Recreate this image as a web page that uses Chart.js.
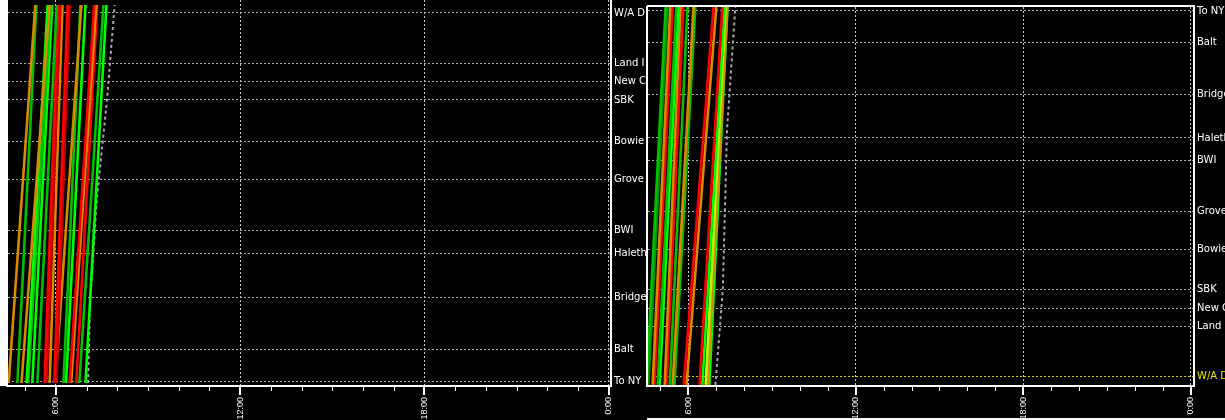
<!DOCTYPE html>
<html><head><meta charset="utf-8">
<script src="https://cdn.jsdelivr.net/npm/chart.js@4.4.1/dist/chart.umd.min.js"></script>
<style>
html,body{margin:0;padding:0;background:#000;width:1225px;height:420px;overflow:hidden;position:relative}
#c1{position:absolute;left:0;top:0}
#c2{position:absolute;left:645px;top:0}
#strip{position:absolute;left:0;top:0;width:7px;height:386px;background:#fff}
#bot{position:absolute;left:647px;top:418px;width:578px;height:2px;background:#fff}
</style></head><body>
<canvas id="c1" width="647" height="420"></canvas>
<div id="strip"></div>
<canvas id="c2" width="580" height="420"></canvas>
<div id="bot"></div>
<script>
// ---- stations (distance from W/A D) ----
const stationNames = ['W/A D','Land I','New C','SBK','Bowie','Grove','BWI','Haleth','Bridge','Balt','To NY'];
const stationMiles = [0,50,68,87,128,166,217,240,284,336,368];

// ---- time axis ----
const timeTickHours  = [6,12,18,24];
const timeTickLabels = ['6:00','12:00','18:00','0:00'];

// ---- left panel: trains run from the To NY end (mile 370) to beyond W/A D (mile -8) ----
const leftFromMile = 370, leftToMile = -8;
const leftStart = ['4:28','4:45','4:53','5:03','5:06','5:14','5:24','5:38','5:42','5:48','5:57','6:01','5:59','6:15','6:20','6:27','6:30','6:40','6:46','6:58'];
const leftEnd   = ['5:20','5:22','5:48','5:44','5:50','5:53','6:02','6:05','6:09','6:13','6:23','6:27','6:50','6:48','6:58','7:15','7:19','7:21','7:33','7:39'];
const leftType  = ['O','G','O','L','G','L','G','R','D','O','R','D','O','G','L','R','O','R','G','L'];
const leftNowMiles = [370,287,267,187,127,87,-8];
const leftNowTimes = ['7:03','7:07','7:10','7:20','7:32','7:40','7:55'];

// ---- right panel: trains run from below W/A D (mile -9) to beyond To NY (mile 372) ----
const rightFromMile = -9, rightToMile = 372;
const rightStart = ['4:30','4:34','4:43','4:47','4:54','4:58','5:09','5:13','5:20','5:26','5:30','5:50','5:56','6:24','6:30','6:37','6:41','6:45'];
const rightEnd   = ['5:11','5:15','5:21','5:26','5:34','5:39','5:43','5:49','5:58','6:11','6:15','6:54','7:00','7:13','7:18','7:20','7:24','7:24'];
const rightType  = ['G','K','O','R','G','L','O','R','G','O','G','R','O','R','L','Y','O','L'];
const rightNowMiles = [-9,87,248,372];
const rightNowTimes = ['6:58','7:14','7:23','7:41'];

const palette = {G:'#00c000', L:'#00ff00', R:'#ff0000', D:'#c80000', O:'#d88a00', Y:'#b4ff00', K:'#009000'};

function hm(s){const p=s.split(':').map(Number);return p[0]+p[1]/60;}

function trainSets(starts, ends, types, fromMile, toMile){
  return starts.map((s,i)=>({
    data:[{x:hm(s),y:fromMile},{x:hm(ends[i]),y:toMile}],
    borderColor:palette[types[i]], backgroundColor:palette[types[i]],
    borderWidth:2.6, pointRadius:0, showLine:true, fill:false
  }));
}
function nowSet(miles, times){
  return {data:miles.map((m,i)=>({x:hm(times[i]),y:m})),
    borderColor:'#a8a8a8', borderWidth:2, borderDash:[3,3], pointRadius:0, showLine:true, fill:false};
}

const framePlugin = {
  id:'frame',
  afterDraw(chart){
    const {ctx, chartArea:a} = chart; const x = chart.scales.x;
    const hideTop = chart.options.plugins.frame && chart.options.plugins.frame.hideTop;
    ctx.save();
    ctx.strokeStyle='#ffffff'; ctx.lineWidth=2;
    ctx.beginPath();
    ctx.moveTo(a.left-1, a.top-1); ctx.lineTo(a.left-1, a.bottom+1);
    ctx.lineTo(a.right+1, a.bottom+1); ctx.lineTo(a.right+1, a.top-1);
    if(!hideTop) ctx.lineTo(a.left-1, a.top-1);
    ctx.stroke();
    for(let h=Math.ceil(x.min); h<=Math.floor(x.max); h++){
      const major = h%6===0;
      const px = Math.round(x.getPixelForValue(h));
      ctx.lineWidth = major?2:1;
      const off = major?0:0.5;
      ctx.beginPath(); ctx.moveTo(px+off, a.bottom+1); ctx.lineTo(px+off, a.bottom+(major?10:6)); ctx.stroke();
    }
    ctx.restore();
  }
};

function makeChart(id, c){
  return new Chart(document.getElementById(id), {
    type:'scatter',
    data:{datasets:c.datasets},
    plugins:[framePlugin],
    options:{
      responsive:false, animation:false, devicePixelRatio:1,
      layout:{padding:c.padding},
      plugins:{legend:{display:false}, tooltip:{enabled:false}, frame:{hideTop:c.hideTop}},
      scales:{
        x:{type:'linear', position:'bottom', min:c.xmin, max:c.xmax,
          afterBuildTicks:s=>{s.ticks=timeTickHours.map(v=>({value:v}));},
          afterFit:s=>{s.height=35; s.paddingLeft=0; s.paddingRight=0;},
          ticks:{autoSkip:false, minRotation:90, maxRotation:90, padding:12, color:'#ffffff',
            font:{family:'Liberation Sans', size:9},
            callback:v=>timeTickLabels[timeTickHours.indexOf(v)]},
          grid:{color:'#c8c8c8', lineWidth:1, drawTicks:false},
          border:{display:false, dash:[2,2]}
        },
        y:{type:'linear', position:'right', min:c.ymin, max:c.ymax, reverse:c.reverse,
          afterBuildTicks:s=>{s.ticks=stationMiles.map(v=>({value:v}));},
          afterFit:s=>{s.width=c.yWidth; s.paddingTop=0; s.paddingBottom=0;},
          ticks:{autoSkip:false, padding:4,
            color:ctx=>(c.yellowAt!==undefined && ctx.tick && ctx.tick.value===c.yellowAt)?'#e8e800':'#ffffff',
            font:{family:'DejaVu Sans', size:10},
            callback:v=>stationNames[stationMiles.indexOf(v)]},
          grid:{color:ctx=>(c.yellowAt!==undefined && ctx.tick && ctx.tick.value===c.yellowAt)?'#d8d800':'#b0b0b0', lineWidth:1, drawTicks:false},
          border:{display:false, dash:[2,2]}
        }
      }
    }
  });
}

makeChart('c1', {
  datasets:[...trainSets(leftStart,leftEnd,leftType,leftFromMile,leftToMile), nowSet(leftNowMiles,leftNowTimes)],
  padding:{left:8,top:0,right:0,bottom:0},
  xmin:4.444, xmax:24.042, ymin:-13, ymax:372, reverse:true, yWidth:37, hideTop:true
});
makeChart('c2', {
  datasets:[...trainSets(rightStart,rightEnd,rightType,rightFromMile,rightToMile), nowSet(rightNowMiles,rightNowTimes)],
  padding:{left:3,top:7,right:0,bottom:0},
  xmin:4.552, xmax:24.086, ymin:-9.07, ymax:372.03, reverse:false, yWidth:32, yellowAt:0, hideTop:false
});
</script>
</body></html>
